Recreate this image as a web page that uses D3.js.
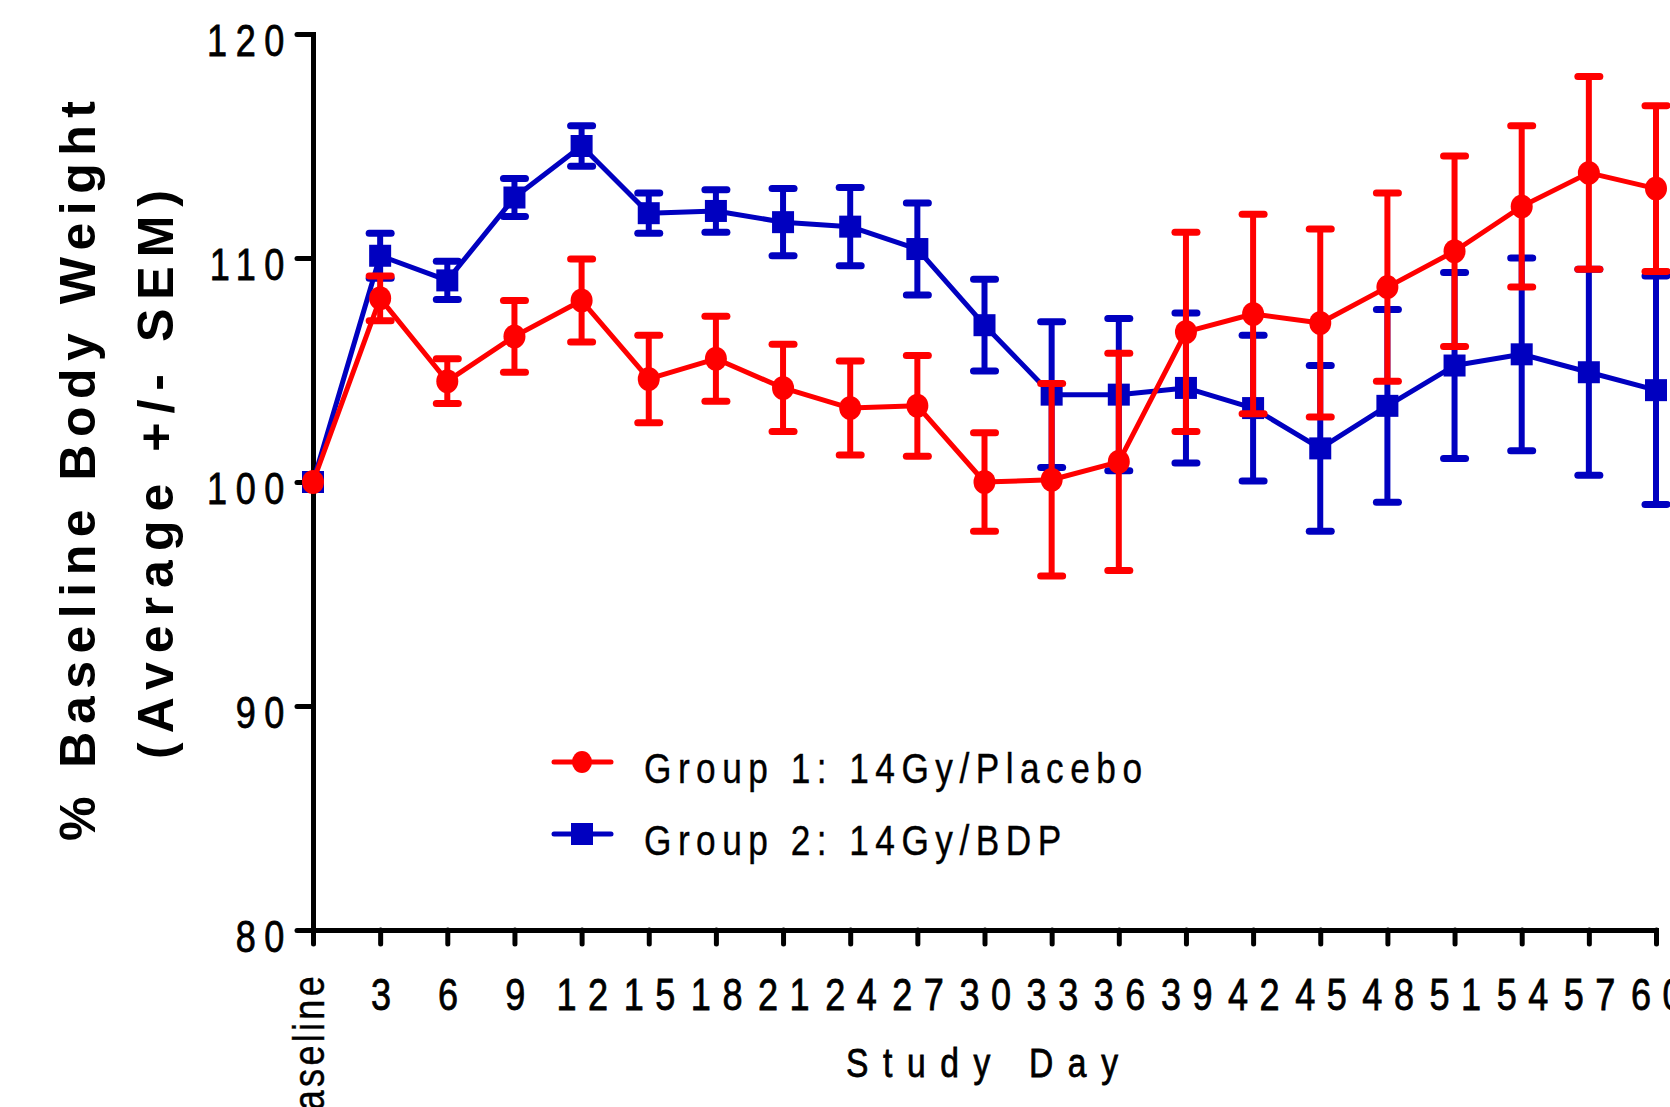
<!DOCTYPE html>
<html>
<head>
<meta charset="utf-8">
<script src="https://cdn.jsdelivr.net/npm/d3@7"></script>
<style>
  body { margin: 0; background: #fff; }
  svg { display: block; font-family: "Liberation Sans", Arial, sans-serif; }
  .thick { stroke: #000; stroke-width: 0.8px; }
  .medium { stroke: #000; stroke-width: 0.4px; }
</style>
</head>
<body>
<div id="chart"></div>
<script>
// study days and tick labels
var days = [0, 3, 6, 9, 12, 15, 18, 21, 24, 27, 30, 33, 36, 39, 42, 45, 48, 51, 54, 57, 60]
var dayLabels = ["Baseline", "3", "6", "9", "12", "15", "18", "21", "24", "27", "30",
                 "33", "36", "39", "42", "45", "48", "51", "54", "57", "60"]
var yTicks = [80, 90, 100, 110, 120]

// Group 1: 14Gy/Placebo (mean, SEM)
var group1Mean = [100, 108.2, 104.5, 106.5, 108.1, 104.6, 105.5, 104.2, 103.3, 103.4, 100.0,
                  100.1, 100.9, 106.7, 107.5, 107.1, 108.7, 110.3, 112.3, 113.8, 113.1]
var group1Sem  = [0, 1.0, 1.0, 1.6, 1.85, 1.95, 1.9, 1.95, 2.1, 2.25, 2.2,
                  4.3, 4.85, 4.45, 4.45, 4.2, 4.2, 4.25, 3.6, 4.3, 3.7]

// Group 2: 14Gy/BDP (mean, SEM)
var group2Mean = [100, 110.1, 109.0, 112.7, 115.0, 112.0, 112.1, 111.6, 111.4, 110.4, 107.0,
                  103.9, 103.9, 104.2, 103.3, 101.5, 103.4, 105.2, 105.7, 104.9, 104.1]
var group2Sem  = [0, 1.0, 0.85, 0.85, 0.9, 0.9, 0.95, 1.5, 1.75, 2.05, 2.05,
                  3.25, 3.4, 3.35, 3.25, 3.7, 4.3, 4.15, 4.3, 4.6, 5.1]

var groupNames = ["Group 1: 14Gy/Placebo", "Group 2: 14Gy/BDP"]
var groupColors = ["#ff0000", "#0000c0"]

var svgSize = { width: 1670, height: 1107 }
var narrow = 0.82   // squeeze Liberation Sans to look like a narrow face

var svg = d3.select("#chart").append("svg")
            .attr("width", svgSize.width)
            .attr("height", svgSize.height)

var xScale = d3.scaleLinear().domain([0, 60]).range([313, 1656])
var yScale = d3.scaleLinear().domain([80, 120]).range([930, 34])

// axes
var leftAxis = d3.axisLeft(yScale).tickValues(yTicks).tickSize(16).tickSizeOuter(0)
var bottomAxis = d3.axisBottom(xScale).tickValues(days).tickSize(14).tickSizeOuter(0)
                   .tickFormat((d, i) => dayLabels[i])

var yAxisG = svg.append("g").attr("transform", `translate(${xScale(0)}, 0)`).call(leftAxis)
var xAxisG = svg.append("g").attr("transform", `translate(0, ${yScale(80)})`).call(bottomAxis)

;[yAxisG, xAxisG].forEach(g => {
    g.attr("font-family", null).attr("font-size", null)
    g.select(".domain").attr("stroke", "#000").attr("stroke-width", 5).attr("stroke-linecap", "square")
    g.selectAll(".tick line").attr("stroke", "#000").attr("stroke-width", 5).attr("stroke-linecap", "round")
    g.selectAll(".tick text").attr("class", "thick").attr("fill", "#000")
     .attr("x", 0).attr("y", 0).attr("dy", 0)
})

yAxisG.selectAll(".tick text")
      .attr("font-size", 44).attr("letter-spacing", 10.5)
      .attr("transform", `translate(-20, 21) scale(${narrow}, 1)`)

xAxisG.selectAll(".tick text")
      .attr("font-size", 44).attr("letter-spacing", 14)
      .attr("transform", `translate(6, 80) scale(${narrow}, 1)`)
      .filter(d => d === 0)
      .attr("class", "medium")
      .attr("text-anchor", "end")
      .attr("letter-spacing", 4)
      .attr("transform", `translate(10, 43) rotate(-90) scale(${narrow}, 1)`)

// fit letter spacing so text spans a given length
function fitSpacing(sel, target) {
    sel.attr("letter-spacing", 0)
    var n = sel.text().length
    var natural = sel.node().getComputedTextLength()
    sel.attr("letter-spacing", (target - natural) / (n - 1))
}

// y axis title
var t1 = svg.append("text").attr("transform", "translate(95, 841) rotate(-90)")
            .attr("font-weight", "bold").attr("font-size", 50)
            .text("% Baseline Body Weight")
fitSpacing(t1, 740)
var t2 = svg.append("text").attr("transform", "translate(173, 759) rotate(-90)")
            .attr("font-weight", "bold").attr("font-size", 50)
            .text("(Average +/- SEM)")
fitSpacing(t2, 569)

// x axis title
var xt = svg.append("text").attr("class", "thick")
            .attr("transform", `translate(846, 1077) scale(${narrow}, 1)`)
            .attr("font-size", 41)
            .text("Study Day")
fitSpacing(xt, 272 / narrow)

// series
function drawGroup(means, sems, color, shape) {
    var g = svg.append("g")
    var pts = days.map((d, i) => ({ day: d, mean: means[i], sem: sems[i] }))
    var bars = pts.filter(p => p.sem > 0)

    g.selectAll("line.stem").data(bars).enter().append("line")
     .attr("x1", p => xScale(p.day)).attr("x2", p => xScale(p.day))
     .attr("y1", p => yScale(p.mean + p.sem)).attr("y2", p => yScale(p.mean - p.sem))
     .attr("stroke", color).attr("stroke-width", 6)

    ;[1, -1].forEach(s => {
        g.selectAll(null).data(bars).enter().append("line")
         .attr("x1", p => xScale(p.day) - 11).attr("x2", p => xScale(p.day) + 11)
         .attr("y1", p => yScale(p.mean + s * p.sem)).attr("y2", p => yScale(p.mean + s * p.sem))
         .attr("stroke", color).attr("stroke-width", 7).attr("stroke-linecap", "round")
    })

    var line = d3.line().x(p => xScale(p.day)).y(p => yScale(p.mean))
    g.append("path").datum(pts).attr("d", line)
     .attr("fill", "none").attr("stroke", color).attr("stroke-width", 5)
     .attr("stroke-linejoin", "round")

    if (shape === "circle") {
        g.selectAll("ellipse").data(pts).enter().append("ellipse")
         .attr("cx", p => xScale(p.day)).attr("cy", p => yScale(p.mean))
         .attr("rx", 11).attr("ry", 12).attr("fill", color)
    } else {
        g.selectAll("rect").data(pts).enter().append("rect")
         .attr("x", p => xScale(p.day) - 11).attr("y", p => yScale(p.mean) - 11)
         .attr("width", 22).attr("height", 22).attr("fill", color)
    }
}

drawGroup(group2Mean, group2Sem, groupColors[1], "square")
drawGroup(group1Mean, group1Sem, groupColors[0], "circle")

// legend
var legend = svg.append("g")
var rows = [{ y: 762, base: 783, shape: "circle" }, { y: 834, base: 855, shape: "square" }]
rows.forEach((r, i) => {
    legend.append("line").attr("x1", 554).attr("x2", 611).attr("y1", r.y).attr("y2", r.y)
          .attr("stroke", groupColors[i]).attr("stroke-width", 5).attr("stroke-linecap", "round")
    if (r.shape === "circle") {
        legend.append("ellipse").attr("cx", 582).attr("cy", r.y).attr("rx", 10).attr("ry", 11)
              .attr("fill", groupColors[i])
    } else {
        legend.append("rect").attr("x", 571).attr("y", r.y - 11).attr("width", 22).attr("height", 22)
              .attr("fill", groupColors[i])
    }
})
var lt1 = legend.append("text").attr("class", "medium")
                .attr("transform", `translate(644, 783) scale(${narrow}, 1)`)
                .attr("font-size", 43).text(groupNames[0])
fitSpacing(lt1, 498 / narrow)
legend.append("text").attr("class", "medium")
      .attr("transform", `translate(644, 855) scale(${narrow}, 1)`)
      .attr("font-size", 43).attr("letter-spacing", lt1.attr("letter-spacing"))
      .text(groupNames[1])
</script>
</body>
</html>
